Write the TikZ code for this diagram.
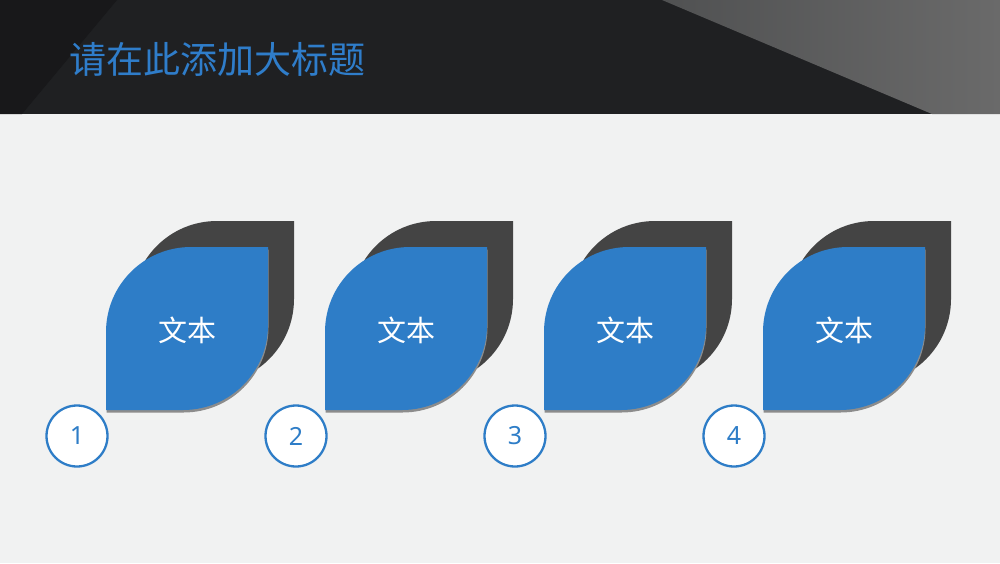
\documentclass[tikz,border=0pt]{standalone}
\usepackage{fontspec}
\newfontfamily\cjk{Noto Sans CJK SC}
\newfontfamily\numfont{Noto Sans}
\definecolor{bgc}{HTML}{F1F2F2}
\definecolor{bandc}{HTML}{1F2022}
\definecolor{banddark}{HTML}{18181A}
\definecolor{grayA}{HTML}{505152}
\definecolor{grayB}{HTML}{6A6A6A}
\definecolor{leafblue}{HTML}{2E7DC7}
\definecolor{leafgray}{HTML}{444444}
\definecolor{shadowc}{HTML}{8C8C8C}
\definecolor{titlec}{HTML}{2F7DCA}
\tikzset{
  leaftext/.style={font=\cjk\fontsize{29}{29}\selectfont, text=white, inner sep=0pt},
  numcircle/.style={circle, draw=leafblue, line width=2.3pt, fill=white, minimum size=61pt, inner sep=0pt,
    font=\numfont\fontsize{25}{25}\selectfont, text=leafblue},
  titletext/.style={font=\cjk\fontsize{37}{37}\selectfont, text=titlec, inner sep=0pt, anchor=west}
}
\newcommand\leafpath{(0,163) -- (0,85) .. controls (0,38) and (38,0) .. (85,0) -- (162,0) -- (162,78) .. controls (162,125) and (124,163) .. (77,163) -- cycle}
\begin{document}
\begin{tikzpicture}[x=1pt,y=-1pt]
\useasboundingbox (0,0) rectangle (1000,563);
% background
\fill[bgc] (0,0) rectangle (1000,563);
% header band
\fill[bandc] (0,0) rectangle (1000,114);
\fill[banddark] (0,0) -- (117,0) -- (22,114) -- (0,114) -- cycle;
\shade[left color=grayA, right color=grayB] (662,0) -- (1000,0) -- (1000,114) -- (932,114) -- cycle;
\node[titletext] (title) at (69,59) {请在此添加大标题};
% leaves
\foreach \i/\x/\n in {1/106/1,2/325/2,3/544/3,4/763/4}{
  \begin{scope}[shift={(\x+26,221)}]
    \fill[leafgray] \leafpath;
  \end{scope}
  \begin{scope}[shift={(\x+0.5,249.5)}]
    \fill[shadowc] \leafpath;
  \end{scope}
  \begin{scope}[shift={(\x,247)}]
    \fill[leafblue] \leafpath;
  \end{scope}
  \node[leaftext] (t\i) at (\x+81,330) {文本};
  \node[numcircle] (c\i) at (\x-29,436) {\n};
}
\end{tikzpicture}
\end{document}
